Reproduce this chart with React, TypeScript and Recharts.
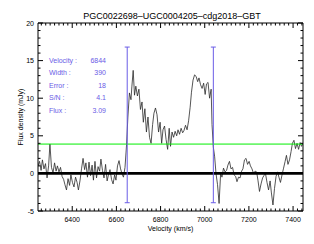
import React from 'react';
import { ComposedChart, Line, XAxis, YAxis, ReferenceLine, ReferenceDot } from 'recharts';

const velocity = [
  6245, 6252, 6259, 6265, 6272, 6279, 6286, 6293, 6299, 6306,
  6313, 6320, 6327, 6333, 6340, 6347, 6354, 6361, 6367, 6374,
  6381, 6388, 6394, 6401, 6408, 6415, 6422, 6428, 6435, 6442,
  6449, 6456, 6462, 6469, 6476, 6483, 6490, 6496, 6503, 6510,
  6517, 6524, 6530, 6537, 6544, 6551, 6558, 6564, 6571, 6578,
  6585, 6592, 6598, 6605, 6612, 6619, 6626, 6632, 6639, 6646,
  6652, 6659, 6666, 6670, 6676, 6682, 6688, 6695, 6702, 6709,
  6716, 6722, 6729, 6736, 6743, 6750, 6757, 6764, 6770, 6777,
  6784, 6791, 6798, 6805, 6811, 6818, 6825, 6832, 6839, 6845,
  6852, 6859, 6866, 6873, 6879, 6886, 6893, 6900, 6906, 6913,
  6920, 6927, 6934, 6940, 6947, 6954, 6961, 6968, 6974, 6981,
  6988, 6995, 7002, 7008, 7015, 7022, 7029, 7033, 7039,
  7045, 7051, 7058, 7065, 7072, 7078, 7085, 7092, 7099, 7105,
  7112, 7119, 7126, 7133, 7140, 7146, 7153, 7160, 7167, 7173,
  7180, 7187, 7194, 7201, 7207, 7214, 7221, 7228, 7235, 7241,
  7248, 7255, 7262, 7268, 7275, 7282, 7289, 7296, 7302, 7309,
  7316, 7323, 7330, 7336, 7343, 7350, 7357, 7364, 7370, 7377,
  7384, 7391, 7397, 7404, 7411, 7418, 7425, 7432, 7438, 7445,
];

const flux = [
  1.0, 1.6, 0.4, 1.8, 0.6, 1.3, -0.6, 1.0, 3.9, 0.8,
  0.1, 1.4, 0.3, 1.0, 0.2, 0.8, -0.4, -0.8, -1.5, -2.2,
  -0.7, -1.6, -0.2, -1.2, -1.8, -0.5, -1.2, -2.2, -1.0, 0.6,
  2.0, 0.5, 1.4, -0.5, 1.5, -0.3, 1.1, -0.9, 1.6, -0.6,
  0.9, 0.3, 1.9, 0.4, -0.6, 1.2, -1.0, -0.2, 0.5, -0.8,
  -1.4, -0.2, -0.9, 1.0, 1.7, 0.6, -0.1, -0.5, 0.8, 3.8,
  7.5, 10.7, 9.8, 11.5, 13.7, 10.4, 11.6, 10.3, 11.2, 8.5,
  9.5, 6.8, 8.6, 5.5, 7.5, 4.8, 4.0, 6.5, 8.0, 8.7,
  7.8, 5.5, 6.8, 4.0, 5.8, 6.3, 4.5, 3.2, 6.0, 3.6,
  5.5, 4.8, 5.6, 5.0, 5.8, 5.2, 6.0, 5.4, 5.7, 6.4,
  5.8, 7.0, 8.8, 10.8, 12.4, 13.1, 12.9, 12.2, 12.7, 11.8,
  11.3, 12.0, 10.5, 11.9, 12.1, 10.0, 11.2, 6.5, 3.5,
  2.2, 0.0, -1.5, -4.0, 0.0, -0.5, 0.7, 0.2, 0.4, 1.1,
  1.6, 0.6, 0.8, -0.2, -0.4, -1.1, -0.5, -0.6, 0.3, 0.6,
  1.8, 2.0, 1.2, 1.6, 1.0, 0.6, 0.0, 0.3, 0.2, -0.9,
  -2.4, -1.4, -0.6, -0.3, 0.0, -1.2, -2.2, -1.0, -2.6, -4.2,
  -2.0, -0.4, 0.2, -0.5, -1.2, -0.2, 0.7, 1.6, 2.4, 1.2,
  1.8, 2.9, 4.0, 4.4, 3.3, 4.0, 3.2, 4.1, 3.6, 4.0,
];

const xDomain = [6245, 7445];
const yDomain = [-5, 20];
const xMajorTicks = [6400, 6600, 6800, 7000, 7200, 7400];
const xMinorStep = 20;
const yMajorTicks = [-5, 0, 5, 10, 15, 20];
const yMinorStep = 1;

const markerVelocities = [6649, 7039];
const markerLow = -3.9;
const markerHigh = 16.8;
const threshold = 3.9;

const infoLabels = ['Velocity :', 'Width :', 'Error :', 'S/N :', 'Flux :'];
const infoValues = ['6844', '390', '18', '4.1', '3.09'];

const title = 'PGC0022698\u2013UGC0004205\u2013cdg2018\u2013GBT';
const xLabel = 'Velocity (km/s)';
const yLabel = 'Flux density (mJy)';

const data = velocity.map((v, i) => ({ v, f: flux[i] }));

const xTicks: number[] = [];
for (let t = 6260; t <= xDomain[1]; t += xMinorStep) xTicks.push(t);
const yTicks: number[] = [];
for (let t = yDomain[0]; t <= yDomain[1]; t += yMinorStep) yTicks.push(t);

const FONT = '"Liberation Sans", Arial, sans-serif';
const BLUE = '#6a5ce6';

const BottomTick = (props: any) => {
  const { x, y, payload } = props;
  const val = payload.value;
  const major = xMajorTicks.includes(val);
  return (
    <g>
      <line x1={x} x2={x} y1={y} y2={y - (major ? 5 : 2.5)} stroke="#000" strokeWidth={1} />
      {major && (
        <text x={x} y={y + 10.5} textAnchor="middle" fontSize={7} fontFamily={FONT} fill="#000">
          {val}
        </text>
      )}
    </g>
  );
};

const TopTick = (props: any) => {
  const { x, y, payload } = props;
  const major = xMajorTicks.includes(payload.value);
  return <line x1={x} x2={x} y1={y} y2={y + (major ? 5 : 2.5)} stroke="#000" strokeWidth={1} />;
};

const LeftTick = (props: any) => {
  const { x, y, payload } = props;
  const val = payload.value;
  const major = yMajorTicks.includes(val);
  return (
    <g>
      <line x1={x} x2={x + (major ? 5 : 2.5)} y1={y} y2={y} stroke="#000" strokeWidth={1} />
      {major && (
        <text x={x - 4} y={y + 2.5} textAnchor="end" fontSize={7} fontFamily={FONT} fill="#000">
          {val}
        </text>
      )}
    </g>
  );
};

const RightTick = (props: any) => {
  const { x, y, payload } = props;
  const major = yMajorTicks.includes(payload.value);
  return <line x1={x} x2={x - (major ? 5 : 2.5)} y1={y} y2={y} stroke="#000" strokeWidth={1} />;
};

const Cap = (props: any) => {
  const { cx, cy } = props;
  return <line x1={cx - 2.5} x2={cx + 2.5} y1={cy} y2={cy} stroke={BLUE} strokeWidth={1} />;
};

export default function App() {
  return (
    <div style={{ position: 'absolute', left: 0, top: 0, width: 314, height: 244, background: '#fff' }}>
      <ComposedChart
        width={314}
        height={244}
        data={data}
        margin={{ top: 0, right: 0, bottom: 0, left: 0 }}
      >
        <XAxis
          xAxisId="b"
          dataKey="v"
          type="number"
          domain={xDomain}
          allowDataOverflow
          ticks={xTicks}
          interval={0}
          tickSize={0}
          tickMargin={0}
          tickLine={false}
          tick={<BottomTick />}
          height={33}
          axisLine={{ stroke: '#000', strokeWidth: 1 }}
        />
        <XAxis
          xAxisId="t"
          orientation="top"
          dataKey="v"
          type="number"
          domain={xDomain}
          allowDataOverflow
          ticks={xTicks}
          interval={0}
          tickSize={0}
          tickMargin={0}
          tickLine={false}
          tick={<TopTick />}
          height={23}
          axisLine={{ stroke: '#000', strokeWidth: 1 }}
        />
        <YAxis
          yAxisId="l"
          type="number"
          domain={yDomain}
          allowDataOverflow
          ticks={yTicks}
          interval={0}
          tickSize={0}
          tickMargin={0}
          tickLine={false}
          tick={<LeftTick />}
          width={38}
          axisLine={{ stroke: '#000', strokeWidth: 1 }}
        />
        <YAxis
          yAxisId="r"
          orientation="right"
          type="number"
          domain={yDomain}
          allowDataOverflow
          ticks={yTicks}
          interval={0}
          tickSize={0}
          tickMargin={0}
          tickLine={false}
          tick={<RightTick />}
          width={11}
          axisLine={{ stroke: '#000', strokeWidth: 1 }}
        />
        <Line
          xAxisId="b"
          yAxisId="l"
          dataKey="f"
          type="linear"
          stroke="#2a2a2a"
          strokeWidth={0.8}
          dot={false}
          isAnimationActive={false}
        />
        <ReferenceLine xAxisId="b" yAxisId="l" y={0} stroke="#000" strokeWidth={2.6} />
        <ReferenceLine xAxisId="b" yAxisId="l" y={threshold} stroke="#00ee00" strokeWidth={1} />
        {markerVelocities.map((mv) => (
          <ReferenceLine
            key={'l' + mv}
            xAxisId="b"
            yAxisId="l"
            segment={[{ x: mv, y: markerLow }, { x: mv, y: markerHigh }]}
            stroke={BLUE}
            strokeWidth={1}
          />
        ))}
        {markerVelocities.map((mv) =>
          [markerLow, markerHigh].map((my) => (
            <ReferenceDot
              key={'d' + mv + '_' + my}
              xAxisId="b"
              yAxisId="l"
              x={mv}
              y={my}
              r={2}
              shape={(p: any) => <Cap {...p} />}
            />
          ))
        )}
      </ComposedChart>
      <div
        style={{
          position: 'absolute', left: 172, top: 15.5, transform: 'translate(-50%, -50%)',
          fontFamily: FONT, fontSize: 9, lineHeight: '9px', whiteSpace: 'nowrap', color: '#000',
        }}
      >
        {title}
      </div>
      <div
        style={{
          position: 'absolute', left: 170.5, top: 227.5, transform: 'translate(-50%, -50%)',
          fontFamily: FONT, fontSize: 7, lineHeight: '7px', whiteSpace: 'nowrap', color: '#000',
        }}
      >
        {xLabel}
      </div>
      <div
        style={{
          position: 'absolute', left: 20, top: 117, transform: 'translate(-50%, -50%) rotate(-90deg)',
          fontFamily: FONT, fontSize: 7, lineHeight: '7px', whiteSpace: 'nowrap', color: '#000',
        }}
      >
        {yLabel}
      </div>
      {infoLabels.map((lab, i) => (
        <React.Fragment key={lab}>
          <div
            style={{
              position: 'absolute', left: 49, top: 59.5 + i * 12.65, transform: 'translateY(-50%)',
              fontFamily: FONT, fontSize: 7, lineHeight: '7px', whiteSpace: 'nowrap', color: BLUE,
            }}
          >
            {lab}
          </div>
          <div
            style={{
              position: 'absolute', right: 314 - 106, top: 59.5 + i * 12.65, transform: 'translateY(-50%)',
              fontFamily: FONT, fontSize: 7, lineHeight: '7px', whiteSpace: 'nowrap', color: BLUE,
            }}
          >
            {infoValues[i]}
          </div>
        </React.Fragment>
      ))}
    </div>
  );
}
